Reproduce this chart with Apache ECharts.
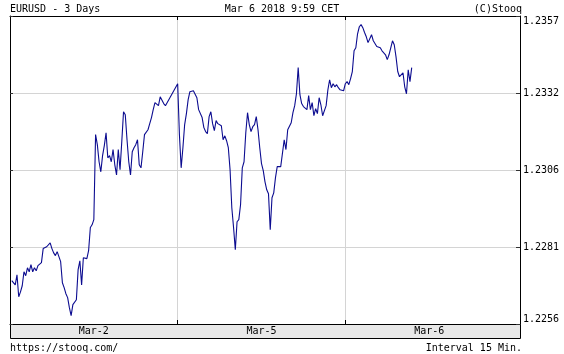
<!DOCTYPE html>
<html><head><meta charset="utf-8">
<script src="https://cdn.jsdelivr.net/npm/echarts@6/dist/echarts.min.js"></script>
<style>html,body{margin:0;padding:0;background:#fff}#c{width:564px;height:354px}</style>
</head><body><div id="c"></div>
<script>
// 15-minute slots per day section
const dayNames = ['Mar-2', 'Mar-5', 'Mar-6', 'Mar-7'];
const xTickLabels = ['Mar-2', 'Mar-5', 'Mar-6'];
const yTickLabels = ['1.2256', '1.2281', '1.2306', '1.2332', '1.2357'];

// EURUSD 15-min closes, Mar 2 2018 (null = no quotes)
const mar2 = [null,
 1.22702,1.22698,1.22688,1.22721,1.22649,1.22665,1.22685,1.22731,1.22718,1.22744,
 1.22731,1.22754,1.22731,1.22744,1.22734,1.22751,1.22748,1.22761,1.22807,1.22813,
 1.22813,1.22816,1.22826,1.22807,1.22793,1.22784,1.22797,1.22803,1.22764,1.22695,
 1.22679,1.22659,1.22646,1.22613,1.22587,1.22623,1.22620,1.22639,1.22738,1.22767,
 1.22688,1.22777,1.22774,1.22774,1.22800,1.22876,1.22885,1.22902,1.23181,1.23148,
 1.23092,1.23059,1.23112,1.23145,1.23187,1.23105,1.23112,1.23092,1.23132,1.23082,
 1.23049,1.23132,1.23066,1.23158,1.23256,1.23246,1.23164,1.23092,1.23049,1.23125,
 1.23138,1.23148,1.23164,1.23082,1.23072,1.23125,1.23181,1.23187,1.23197,1.23217,
 1.23237,1.23263,1.23286,1.23283,1.23276,1.23305,1.23299,1.23283,1.23276,
 null,null,null,null,null,null];
// Mar 5 2018
const mar5 = [
 1.23348,1.23181,1.23072,1.23138,1.23214,1.23250,1.23296,1.23322,1.23319,1.23325,
 1.23322,1.23302,1.23263,1.23269,1.23237,1.23204,1.23191,1.23184,1.23240,1.23256,
 1.23217,1.23194,1.23227,1.23217,1.23214,1.23210,1.23164,1.23177,1.23161,1.23138,
 1.23066,1.22941,1.22876,1.22803,1.22895,1.22902,1.22951,1.23072,1.23092,1.23187,
 1.23253,1.23214,1.23191,1.23207,1.23214,1.23240,1.23197,1.23138,1.23086,1.23063,
 1.23026,1.23000,1.22987,1.22869,1.22974,1.22990,1.23040,1.23076,1.23072,1.23076,
 1.23076,1.23164,1.23132,1.23197,1.23200,1.23220,1.23253,1.23276,1.23315,1.23401,
 1.23312,1.23283,1.23273,1.23269,1.23263,1.23309,1.23263,1.23286,1.23243,1.23266,
 1.23250,1.23302,1.23279,1.23243,1.23240,1.23276,1.23328,1.23361,1.23335,1.23348,
 1.23338,1.23345,1.23335,1.23328,1.23325,1.23325];
// Mar 6 2018 (to 9:59 CET)
const mar6 = [
 1.23348,1.23355,1.23345,1.23365,1.23388,1.23456,1.23466,1.23512,1.23535,1.23542,
 1.23532,1.23516,1.23502,1.23483,1.23489,1.23509,1.23489,1.23483,1.23470,1.23476,
 1.23466,1.23456,1.23450,1.23443,1.23427,1.23443,1.23466,1.23489,1.23476,1.23437,
 1.23388,1.23371,1.23371,1.23384,1.23338,1.23315,1.23394,1.23355,1.23401];

const SLOTS = 96, TOTAL = 293;
const categories = [];
for (let i = 0; i < TOTAL; i++) {
  const d = Math.floor(i / SLOTS), s = i % SLOTS;
  const hh = String(Math.floor(s / 4)).padStart(2, '0');
  const mm = String((s % 4) * 15).padStart(2, '0');
  categories.push(dayNames[d] + ' ' + hh + ':' + mm);
}
const values = mar2.concat(mar5, mar6);

const labelIdx = xTickLabels.map((n, k) => k * SLOTS + SLOTS / 2);
const boundaryIdx = [SLOTS, 2 * SLOTS];

const INT = 0.002527;
const YMIN = 485 * INT, YMAX = 489 * INT;
const font = 'DejaVu Sans Mono';
const fmtY = v => {
  const i = Math.round((v - YMIN) / INT);
  return yTickLabels[i] !== undefined ? yTickLabels[i] : '';
};

const chart = echarts.init(document.getElementById('c'), null, {renderer: 'canvas'});
chart.setOption({
  animation: false,
  backgroundColor: '#fff',
  grid: {left: 10, right: 44, top: 16, bottom: 30, show: false},
  graphic: [
    {type: 'rect', z: -1, shape: {x: 10.5, y: 324.5, width: 510, height: 14},
     style: {fill: '#e8e8e8', stroke: '#000', lineWidth: 1}},
    {type: 'text', x: 10, y: 4, style: {text: 'EURUSD - 3 Days', font: '10px ' + font, fill: '#000'}},
    {type: 'text', x: 282, y: 4, style: {text: 'Mar 6 2018 9:59 CET', font: '10px ' + font, fill: '#000', align: 'center'}},
    {type: 'text', x: 522, y: 4, style: {text: '(C)Stooq', font: '10px ' + font, fill: '#000', align: 'right'}},
    {type: 'text', x: 10, y: 343, style: {text: 'https://stooq.com/', font: '10px ' + font, fill: '#000'}},
    {type: 'text', x: 522, y: 343, style: {text: 'Interval 15 Min.', font: '10px ' + font, fill: '#000', align: 'right'}}
  ],
  xAxis: [{
    type: 'category', data: categories, boundaryGap: false, position: 'bottom',
    axisLine: {lineStyle: {color: '#000', width: 1}},
    axisTick: {inside: true, length: 4, lineStyle: {color: '#000'},
      interval: (i) => boundaryIdx.includes(i)},
    axisLabel: {interval: (i) => labelIdx.includes(i), margin: 2,
      formatter: (v) => v.split(' ')[0], color: '#000', fontFamily: font, fontSize: 10},
    splitLine: {show: true, interval: (i) => boundaryIdx.includes(i),
      lineStyle: {color: '#d4d4d4', width: 1}}
  }, {
    type: 'category', data: categories, boundaryGap: false, position: 'top',
    axisLine: {lineStyle: {color: '#000', width: 1}},
    axisTick: {inside: true, length: 4, lineStyle: {color: '#000'},
      interval: (i) => boundaryIdx.includes(i)},
    axisLabel: {show: false}, splitLine: {show: false}
  }],
  yAxis: [{
    type: 'value', position: 'right', min: YMIN, max: YMAX, interval: INT,
    axisLine: {show: true, lineStyle: {color: '#000', width: 1}},
    axisTick: {show: true, inside: true, length: 4, lineStyle: {color: '#333'}},
    axisLabel: {formatter: fmtY, margin: 3, color: '#000', fontFamily: font, fontSize: 10,
      verticalAlignMaxLabel: 'top', verticalAlignMinLabel: 'bottom'},
    splitLine: {show: true, lineStyle: {color: '#d4d4d4', width: 1}}
  }, {
    type: 'value', position: 'left', min: YMIN, max: YMAX, interval: INT,
    axisLine: {show: true, lineStyle: {color: '#000', width: 1}},
    axisTick: {show: true, inside: true, length: 3, lineStyle: {color: '#333'}},
    axisLabel: {show: false}, splitLine: {show: false}
  }],
  series: [{
    type: 'line', data: values, xAxisIndex: 0, yAxisIndex: 0,
    showSymbol: false, connectNulls: true,
    lineStyle: {color: '#0c0c90', width: 1.1}
  }]
});
</script></body></html>
